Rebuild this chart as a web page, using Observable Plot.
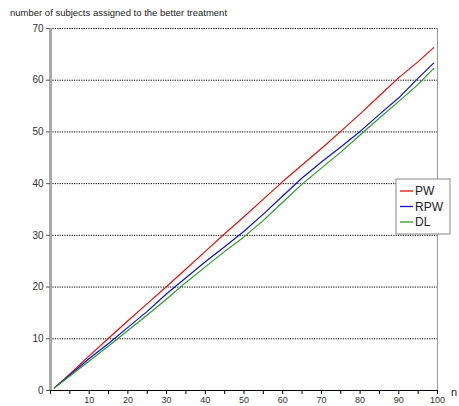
<!DOCTYPE html>
<html>
<head>
<meta charset="utf-8">
<script src="https://cdn.jsdelivr.net/npm/d3@7"></script>
<script src="https://cdn.jsdelivr.net/npm/@observablehq/plot@0.6"></script>
<style>
  html, body { margin: 0; padding: 0; background: #fff; }
  #chart { width: 459px; height: 406px; }
  svg { font-family: "Liberation Sans", Arial, sans-serif; }
</style>
</head>
<body>
<div id="chart"></div>
<script>
const title = "number of subjects assigned to the better treatment";
const xLabel = "n";
const seriesNames = ["PW", "RPW", "DL"];
const seriesColors = ["#e01010", "#1010d0", "#2a9a2a"];
const nValues = [1, 5, 10, 15, 20, 25, 30, 35, 40, 45, 50, 55, 60, 65, 70, 75, 80, 85, 90, 95, 99];
const pw  = [0.5, 3.2, 6.7, 10.1, 13.5, 16.8, 20.1, 23.5, 26.9, 30.3, 33.6, 37.0, 40.4, 43.6, 46.8, 50.1, 53.5, 57.0, 60.5, 63.6, 66.3];
const rpw = [0.5, 3.0, 6.2, 9.1, 12.2, 15.3, 18.7, 21.8, 24.9, 27.8, 30.8, 34.1, 37.6, 41.1, 44.2, 47.1, 50.1, 53.4, 56.6, 60.4, 63.3];
const dl  = [0.5, 2.8, 5.7, 8.6, 11.6, 14.6, 17.7, 20.9, 23.9, 26.9, 29.7, 32.9, 36.4, 39.9, 43.0, 46.1, 49.4, 52.7, 55.9, 59.2, 62.3];
const yTicks = [0, 10, 20, 30, 40, 50, 60, 70];
const xTicks = [0, 5, 10, 15, 20, 25, 30, 35, 40, 45, 50, 55, 60, 65, 70, 75, 80, 85, 90, 95, 100];

const allSeries = [pw, rpw, dl];
const data = [];
allSeries.forEach((vals, si) => {
  vals.forEach((v, i) => data.push({ n: nValues[i], value: v, series: seriesNames[si] }));
});

const W = 459, H = 406;
const plot = Plot.plot({
  width: W,
  height: H,
  marginLeft: 50,
  marginRight: 22,
  marginTop: 28,
  marginBottom: 16,
  style: { fontFamily: '"Liberation Sans", Arial, sans-serif', fontSize: "10px", background: "#fff", color: "#333", overflow: "visible" },
  x: { domain: [0, 100] },
  y: { domain: [0, 70] },
  color: { domain: seriesNames, range: seriesColors },
  marks: [
    Plot.gridY(yTicks.filter(d => d > 0), { stroke: "#000", strokeOpacity: 1, strokeDasharray: "1.2,1.2", strokeWidth: 1 }),
    Plot.ruleX([100], { stroke: "#999", strokeWidth: 1 }),
    Plot.ruleX([0], { stroke: "#aaa", strokeWidth: 3 }),
    Plot.ruleY([0], { stroke: "#000", strokeWidth: 1 }),
    Plot.axisY({ ticks: yTicks, tickSize: 4, tickPadding: 3, label: null, stroke: "#555", fill: "#333", fontSize: 10 }),
    Plot.axisX({ ticks: xTicks, tickSize: 4, tickPadding: 2, label: null, stroke: "#000", fill: "#333", fontSize: 9,
      tickFormat: d => (d % 10 === 0 && d !== 0) ? String(d) : "" }),
    Plot.line(data, { x: "n", y: "value", z: "series", stroke: "series", strokeWidth: 1.2 })
  ]
});
document.getElementById("chart").appendChild(plot);

const svg = d3.select(plot);
svg.append("text")
  .attr("x", 10).attr("y", 16)
  .attr("text-anchor", "start")
  .attr("font-size", 9.5).attr("fill", "#222")
  .text(title);
svg.append("text")
  .attr("x", 451).attr("y", 396)
  .attr("text-anchor", "start")
  .attr("font-size", 11).attr("fill", "#222")
  .text(xLabel);

const lg = svg.append("g").attr("transform", "translate(396,179)");
lg.append("rect").attr("width", 54).attr("height", 55)
  .attr("fill", "#fff").attr("stroke", "#888").attr("stroke-width", 1);
seriesNames.forEach((name, i) => {
  const yy = 12 + i * 15.5;
  lg.append("line").attr("x1", 4).attr("x2", 17).attr("y1", yy).attr("y2", yy)
    .attr("stroke", seriesColors[i]).attr("stroke-width", 1.3);
  lg.append("text").attr("x", 19).attr("y", yy).attr("dy", "0.36em")
    .attr("text-anchor", "start")
    .attr("font-size", 12).attr("fill", "#222").text(name);
});
</script>
</body>
</html>
